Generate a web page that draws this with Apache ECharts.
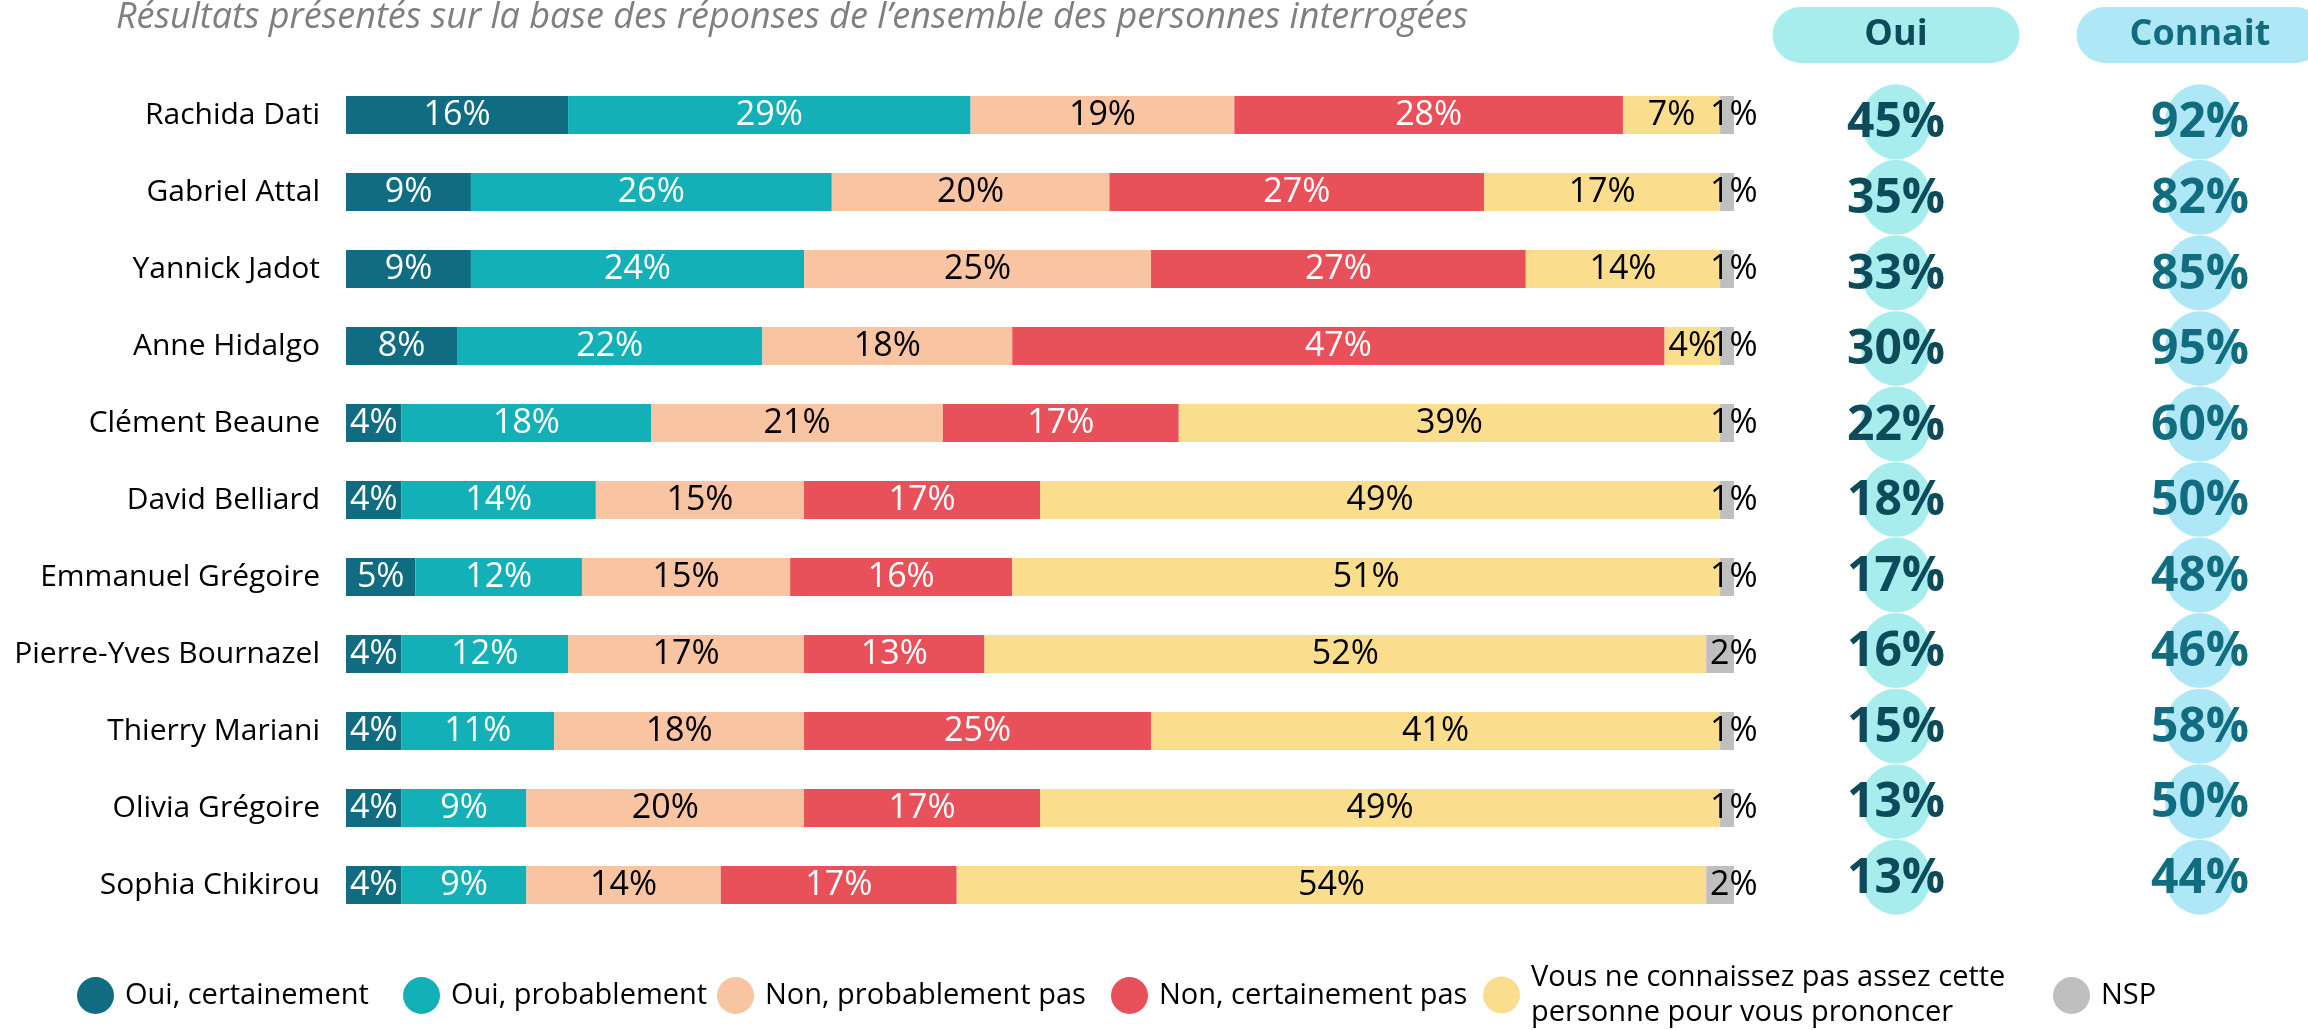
<!DOCTYPE html>
<html>
<head>
<meta charset="utf-8">
<script src="https://cdn.jsdelivr.net/npm/echarts@6/dist/echarts.min.js"></script>
<style>
  html, body { margin: 0; padding: 0; background: #fff; }
  #chart { width: 2308px; height: 1030px; }
</style>
</head>
<body>
<div id="chart"></div>
<script>
const names = ['Rachida Dati', 'Gabriel Attal', 'Yannick Jadot', 'Anne Hidalgo', 'Clément Beaune', 'David Belliard',
  'Emmanuel Grégoire', 'Pierre-Yves Bournazel', 'Thierry Mariani', 'Olivia Grégoire', 'Sophia Chikirou']

const ouiCertainement = [16, 9, 9, 8, 4, 4, 5, 4, 4, 4, 4]
const ouiProbablement = [29, 26, 24, 22, 18, 14, 12, 12, 11, 9, 9]
const nonProbablement = [19, 20, 25, 18, 21, 15, 15, 17, 18, 20, 14]
const nonCertainement = [28, 27, 27, 47, 17, 17, 16, 13, 25, 17, 17]
const connaitPas = [7, 17, 14, 4, 39, 49, 51, 52, 41, 49, 54]
const nsp = [1, 1, 1, 1, 1, 1, 1, 2, 1, 1, 2]

const totalOui = [45, 35, 33, 30, 22, 18, 17, 16, 15, 13, 13]
const totalConnait = [92, 82, 85, 95, 60, 50, 48, 46, 58, 50, 44]

const seriesNames = ['Oui, certainement', 'Oui, probablement', 'Non, probablement pas', 'Non, certainement pas',
  'Vous ne connaissez pas assez cette personne pour vous prononcer', 'NSP']
const headers = ['Oui', 'Connait']

const FONT = "'Open Sans', 'Noto Sans', sans-serif"
const ellipse = 'path://M50,0A50,50,0,1,1,50,100A50,50,0,1,1,50,0Z'

function barSeries(name, data, color, labelColor, extraLabel) {
  return {
    name,
    type: 'bar',
    stack: 'total',
    barWidth: 38,
    data,
    itemStyle: { color },
    label: Object.assign({
      show: true,
      position: 'inside',
      color: labelColor,
      fontFamily: FONT,
      fontSize: 34,
      formatter: (p) => p.value + '%'
    }, extraLabel || {})
  }
}

function legendAt(left, top, name, formatter) {
  return {
    left,
    top,
    padding: 0,
    icon: 'circle',
    itemWidth: 37,
    itemHeight: 37,
    selectedMode: false,
    data: [name],
    formatter: formatter || '{name}',
    textStyle: {
      fontFamily: FONT,
      fontSize: 29,
      lineHeight: 35,
      color: '#000',
      padding: [0, 0, 0, 6]
    }
  }
}

function pointsFor(header, values) {
  return names.map((n, i) => [header, n, values[i]])
}

const chart = echarts.init(document.getElementById('chart'))

chart.setOption({
  animation: false,
  title: {
    text: 'Résultats présentés sur la base des réponses de l\u2019ensemble des personnes interrogées',
    left: 116,
    top: -3,
    padding: 0,
    textStyle: {
      fontFamily: FONT,
      fontSize: 36,
      lineHeight: 42,
      fontStyle: 'italic',
      fontWeight: 'normal',
      color: '#7f7f7f'
    }
  },
  legend: [
    legendAt(77, 977, seriesNames[0]),
    legendAt(403, 977, seriesNames[1]),
    legendAt(717, 977, seriesNames[2]),
    legendAt(1111, 977, seriesNames[3]),
    legendAt(1483, 960, seriesNames[4], () => 'Vous ne connaissez pas assez cette\npersonne pour vous prononcer'),
    legendAt(2053, 977, seriesNames[5])
  ],
  grid: [
    { left: 346, top: 76.5, width: 1388, height: 847, outerBoundsMode: 'none' },
    { left: 1744, top: 84, width: 608, height: 831, outerBoundsMode: 'none' }
  ],
  xAxis: [
    { type: 'value', gridIndex: 0, min: 0, max: 100, show: false },
    {
      type: 'category',
      gridIndex: 1,
      data: headers,
      position: 'top',
      axisLine: { show: false },
      axisTick: { show: false },
      splitLine: { show: false },
      axisLabel: {
        margin: 21,
        formatter: (v) => (v === 'Oui' ? '{oui|' + v + '}' : '{con|' + v + '}'),
        rich: {
          oui: {
            width: 247, height: 56, lineHeight: 56, align: 'center', borderRadius: 28,
            backgroundColor: '#a7eded', color: '#0e4b5a',
            fontFamily: FONT, fontSize: 36, fontWeight: 'bold'
          },
          con: {
            width: 247, height: 56, lineHeight: 56, align: 'center', borderRadius: 28,
            backgroundColor: '#aee8f6', color: '#126c80',
            fontFamily: FONT, fontSize: 36, fontWeight: 'bold'
          }
        }
      }
    }
  ],
  yAxis: [
    {
      type: 'category',
      gridIndex: 0,
      data: names,
      inverse: true,
      axisLine: { show: false },
      axisTick: { show: false },
      axisLabel: { margin: 26, color: '#000', fontFamily: FONT, fontSize: 30 }
    },
    { type: 'category', gridIndex: 1, data: names, inverse: true, show: false }
  ],
  series: [
    barSeries(seriesNames[0], ouiCertainement, '#0f6c81', '#fff'),
    barSeries(seriesNames[1], ouiProbablement, '#14b0b7', '#fff'),
    barSeries(seriesNames[2], nonProbablement, '#f8c4a1', '#000'),
    barSeries(seriesNames[3], nonCertainement, '#e8515a', '#fff'),
    barSeries(seriesNames[4], connaitPas, '#fadd8d', '#000'),
    barSeries(seriesNames[5], nsp, '#bfbfbf', '#000', { position: 'right', distance: -24 }),
    {
      type: 'scatter',
      xAxisIndex: 1,
      yAxisIndex: 1,
      symbol: ellipse,
      symbolSize: [70, 75],
      encode: { x: 0, y: 1 },
      data: pointsFor('Oui', totalOui),
      itemStyle: { color: '#a7eded', opacity: 1 },
      label: {
        show: true, position: 'inside', formatter: (p) => p.data[2] + '%',
        fontFamily: FONT, fontSize: 48, fontWeight: 'bold', color: '#0e4b5a', offset: [0, 2]
      }
    },
    {
      type: 'scatter',
      xAxisIndex: 1,
      yAxisIndex: 1,
      symbol: ellipse,
      symbolSize: [70, 75],
      encode: { x: 0, y: 1 },
      data: pointsFor('Connait', totalConnait),
      itemStyle: { color: '#aee8f6', opacity: 1 },
      label: {
        show: true, position: 'inside', formatter: (p) => p.data[2] + '%',
        fontFamily: FONT, fontSize: 48, fontWeight: 'bold', color: '#126c80', offset: [0, 2]
      }
    }
  ]
})
</script>
</body>
</html>
